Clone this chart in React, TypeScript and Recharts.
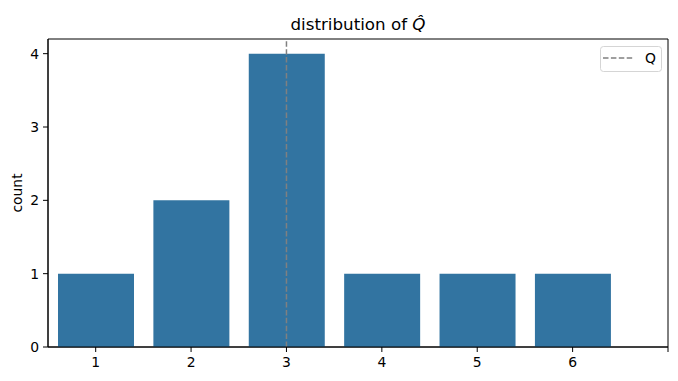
import React from 'react';
import { BarChart, Bar, XAxis, YAxis, ReferenceLine, ReferenceArea } from 'recharts';

const categories = [1, 2, 3, 4, 5, 6];
const counts = [1, 2, 4, 1, 1, 1];
const xTicks = [1, 2, 3, 4, 5, 6, 7];
const xTickLabels = ['1', '2', '3', '4', '5', '6', ''];
const yTicks = [0, 1, 2, 3, 4];
const qValue = 3;
const titleText = 'distribution of ';
const legendLabel = 'Q';

const data = categories.map((c, i) => ({ cat: c, count: counts[i] }));

const FONT = '"DejaVu Sans", sans-serif';
const W = 678;
const H = 381;

export default function App() {
  return (
    <div style={{ position: 'absolute', left: 0, top: 0, width: W, height: H, background: '#fff' }}>
      <BarChart
        width={W}
        height={H}
        data={data}
        margin={{ top: 39, right: 10, bottom: 0, left: 0 }}
      >
        <XAxis
          dataKey="cat"
          type="number"
          domain={[0.5, 7]}
          ticks={xTicks}
          tickFormatter={(v: number) => xTickLabels[xTicks.indexOf(v)] ?? ''}
          height={34}
          tickSize={5}
          tickMargin={5}
          axisLine={{ stroke: '#000', strokeWidth: 1 }}
          tickLine={{ stroke: '#000', strokeWidth: 1 }}
          tick={{ fill: '#000', fontSize: 13.9, fontFamily: FONT }}
          allowDataOverflow
        />
        <YAxis
          type="number"
          domain={[0, 4.2]}
          ticks={yTicks}
          width={48}
          tickSize={5}
          tickMargin={4}
          axisLine={{ stroke: '#000', strokeWidth: 1 }}
          tickLine={{ stroke: '#000', strokeWidth: 1 }}
          tick={{ fill: '#000', fontSize: 13.9, fontFamily: FONT }}
          allowDataOverflow
          label={{
            value: 'count',
            angle: -90,
            position: 'center',
            dx: -7,
            style: { fill: '#000', fontSize: 13.9, fontFamily: FONT },
          }}
        />
        <Bar dataKey="count" fill="#3274a1" barSize={76} isAnimationActive={false} />
        <ReferenceLine
          x={qValue}
          stroke="#808080"
          strokeWidth={1.5}
          strokeDasharray="5.5 2.4"
        />
        <ReferenceArea
          x1={0.5}
          x2={7}
          y1={0}
          y2={4.2}
          fill="none"
          fillOpacity={0}
          stroke="#000"
          strokeWidth={1}
          strokeOpacity={1}
        />
      </BarChart>
      <svg
        width={W}
        height={H}
        style={{ position: 'absolute', left: 0, top: 0, pointerEvents: 'none' }}
      >
        <text
          x={358}
          y={30}
          textAnchor="middle"
          fontFamily={FONT}
          fontSize={16.7}
          fill="#000"
        >
          {titleText}
          <tspan fontStyle="italic">{'Q\u0302'}</tspan>
        </text>
        <rect x={600.5} y={46.5} width={61} height={25} rx={3} fill="#fff" stroke="#d5d5d5" strokeWidth={1} />
        <line x1={603} y1={58} x2={633} y2={58} stroke="#808080" strokeWidth={1.5} strokeDasharray="5.5 2.4" />
        <text x={645} y={63} fontFamily={FONT} fontSize={13.9} fill="#000">
          {legendLabel}
        </text>
      </svg>
    </div>
  );
}
